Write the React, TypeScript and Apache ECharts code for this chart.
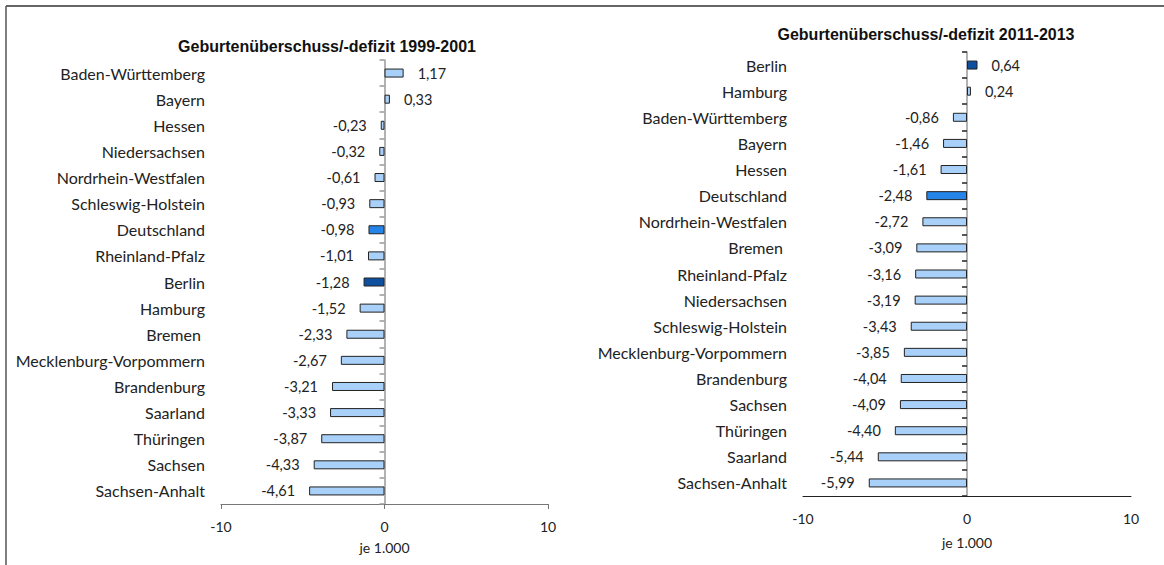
import React, { useEffect, useRef } from "react";
import * as echarts from "echarts";

const leftTitle = "Geburtenüberschuss/-defizit 1999-2001";
const leftCategories = [
  "Baden-Württemberg", "Bayern", "Hessen", "Niedersachsen", "Nordrhein-Westfalen",
  "Schleswig-Holstein", "Deutschland", "Rheinland-Pfalz", "Berlin", "Hamburg",
  "Bremen ", "Mecklenburg-Vorpommern", "Brandenburg", "Saarland", "Thüringen",
  "Sachsen", "Sachsen-Anhalt",
];
const leftValues = [
  1.17, 0.33, -0.23, -0.32, -0.61, -0.93, -0.98, -1.01, -1.28, -1.52,
  -2.33, -2.67, -3.21, -3.33, -3.87, -4.33, -4.61,
];

const rightTitle = "Geburtenüberschuss/-defizit 2011-2013";
const rightCategories = [
  "Berlin", "Hamburg", "Baden-Württemberg", "Bayern", "Hessen", "Deutschland",
  "Nordrhein-Westfalen", "Bremen ", "Rheinland-Pfalz", "Niedersachsen",
  "Schleswig-Holstein", "Mecklenburg-Vorpommern", "Brandenburg", "Sachsen",
  "Thüringen", "Saarland", "Sachsen-Anhalt",
];
const rightValues = [
  0.64, 0.24, -0.86, -1.46, -1.61, -2.48, -2.72, -3.09, -3.16, -3.19,
  -3.43, -3.85, -4.04, -4.09, -4.40, -5.44, -5.99,
];

const axisName = "je 1.000";
const FONT = "Lato";

const LIGHT = "#a8d0f8";
const MID = "#2484ea";
const DARK = "#0e4fa0";

function colorFor(cat: string) {
  if (cat === "Deutschland") return MID;
  if (cat === "Berlin") return DARK;
  return LIGHT;
}

function buildData(cats: string[], vals: number[]) {
  return vals.map((v, i) => ({
    value: v,
    itemStyle: { color: colorFor(cats[i]) },
    label: { position: v < 0 ? "left" : "right" },
  }));
}

export default function App() {
  const ref = useRef<HTMLDivElement>(null);
  useEffect(() => {
    if (!ref.current) return;
    const chart = echarts.init(ref.current, undefined, { renderer: "svg" });
    const labelFmt = (p: any) => Number(p.value).toFixed(2).replace(".", ",");
    const valueAxis = (gridIndex: number, color: string, ticks: boolean, gap: number) => ({
      type: "value",
      gridIndex,
      min: -10,
      max: 10,
      interval: 10,
      splitLine: { show: false },
      axisLine: { show: true, onZero: false, lineStyle: { color, width: 1 } },
      axisTick: { show: ticks, length: 5, lineStyle: { color } },
      axisLabel: { fontFamily: FONT, fontSize: 14, color: "#222", margin: 15 },
      name: axisName,
      nameLocation: "middle",
      nameGap: gap,
      nameTextStyle: { fontFamily: FONT, fontSize: 14, color: "#222" },
    });
    const lineAxis = (gridIndex: number, cats: string[], lineColor: string, tickColor: string) => ({
      type: "category",
      gridIndex,
      data: cats,
      inverse: true,
      axisLine: { show: true, onZero: true, lineStyle: { color: lineColor, width: 1.5 } },
      axisTick: { show: true, length: 5, lineStyle: { color: tickColor, width: 1.5 } },
      axisLabel: { show: false },
      splitLine: { show: false },
    });
    const labelAxis = (gridIndex: number, cats: string[]) => ({
      type: "category",
      gridIndex,
      data: cats,
      inverse: true,
      position: "left",
      axisLine: { show: false, onZero: false },
      axisTick: { show: false },
      axisLabel: { fontFamily: FONT, fontSize: 16, color: "#222", margin: 16 },
      splitLine: { show: false },
    });
    const seriesStyle = {
      type: "bar",
      barWidth: 9,
      itemStyle: { borderColor: "#222", borderWidth: 1 },
      label: {
        show: true,
        formatter: labelFmt,
        distance: 14,
        fontFamily: FONT,
        fontSize: 14.5,
        color: "#222",
      },
    };
    chart.setOption({
      animation: false,
      backgroundColor: "#fff",
      title: [
        {
          text: leftTitle,
          left: 322,
          top: 33,
          textAlign: "center",
          textStyle: { fontFamily: "Liberation Sans", fontWeight: "bold", fontSize: 16, color: "#111" },
        },
        {
          text: rightTitle,
          left: 921,
          top: 21,
          textAlign: "center",
          textStyle: { fontFamily: "Liberation Sans", fontWeight: "bold", fontSize: 16, color: "#111" },
        },
      ],
      grid: [
        { left: 221, width: 327, top: 60, height: 444 },
        { left: 803, width: 328, top: 52, height: 444 },
      ],
      xAxis: [valueAxis(0, "#777", true, 36), valueAxis(1, "#222", false, 39)],
      yAxis: [
        lineAxis(0, leftCategories, "#999", "#999"),
        lineAxis(1, rightCategories, "#999", "#222"),
        labelAxis(0, leftCategories),
        labelAxis(1, rightCategories),
      ],
      series: [
        { ...seriesStyle, xAxisIndex: 0, yAxisIndex: 0, data: buildData(leftCategories, leftValues) },
        { ...seriesStyle, xAxisIndex: 1, yAxisIndex: 1, data: buildData(rightCategories, rightValues) },
      ],
      graphic: [
        { type: "line", shape: { x1: 6, y1: 6, x2: 1164, y2: 6 }, style: { stroke: "#333", lineWidth: 1.5 } },
        { type: "line", shape: { x1: 6, y1: 6, x2: 6, y2: 565 }, style: { stroke: "#555", lineWidth: 1.5 } },
      ],
    });
    return () => chart.dispose();
  }, []);
  return (
    <div
      ref={ref}
      style={{ position: "fixed", left: 0, top: 0, width: 1164, height: 565, background: "#fff" }}
    />
  );
}
